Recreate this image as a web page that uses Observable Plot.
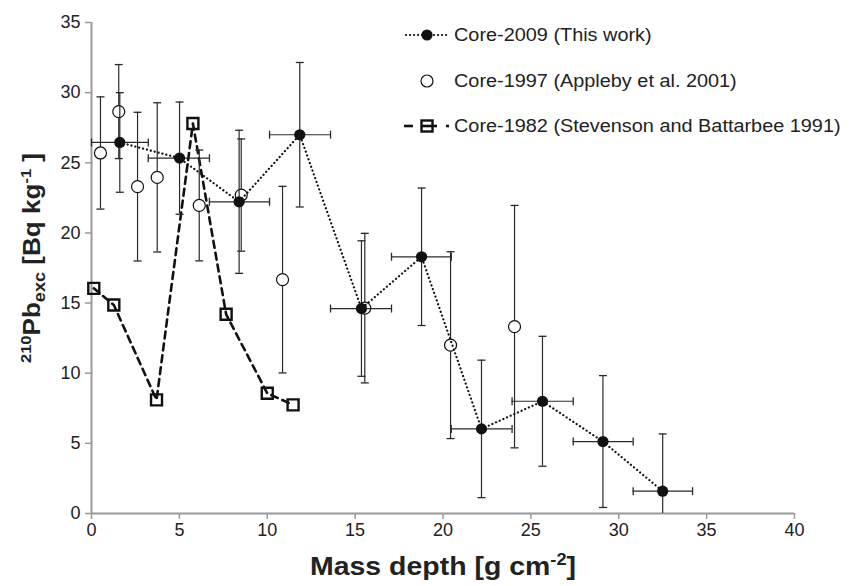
<!DOCTYPE html>
<html>
<head>
<meta charset="utf-8">
<script src="https://cdn.jsdelivr.net/npm/d3@7"></script>
<script src="https://cdn.jsdelivr.net/npm/@observablehq/plot@0.6"></script>
<style>
  html, body { margin: 0; padding: 0; background: #fff; }
  #chart { width: 854px; height: 586px; }
</style>
</head>
<body>
<div id="chart"></div>
<script>
// ---- Data ----
// Core-2009 (This work)
const c2009X    = [1.61, 5.01, 8.40, 11.85, 15.36, 18.78, 22.19, 25.66, 29.10, 32.50];
const c2009Y    = [26.45, 25.33, 22.22, 27.00, 14.61, 18.30, 6.03, 8.00, 5.13, 1.59];
const c2009Err  = [3.55, 4.00, 5.10, 5.15, 4.83, 4.90, 4.90, 4.63, 4.70, 4.08];
const c2009XLo  = [0.00, 3.23, 6.71, 10.13, 13.60, 17.07, 20.47, 23.93, 27.41, 30.82];
const c2009XHi  = [3.23, 6.71, 10.13, 13.60, 17.07, 20.47, 23.93, 27.41, 30.82, 34.20];
// Core-1997 (Appleby et al. 2001)
const c1997X    = [0.51, 1.55, 2.62, 3.74, 6.13, 8.52, 10.87, 15.55, 20.43, 24.07];
const c1997Y    = [25.70, 28.65, 23.30, 23.96, 21.96, 22.70, 16.67, 14.64, 12.00, 13.32];
const c1997Err  = [4.00, 3.35, 5.30, 5.32, 3.95, 4.00, 6.65, 5.33, 6.66, 8.64];
// Core-1982 (Stevenson and Battarbee 1991)
const c1982X    = [0.13, 1.27, 3.70, 5.77, 7.66, 10.00, 11.47];
const c1982Y    = [16.05, 14.86, 8.10, 27.80, 14.20, 8.57, 7.74];
// Axis ticks
const xTicks = [0, 5, 10, 15, 20, 25, 30, 35, 40];
const yTicks = [0, 5, 10, 15, 20, 25, 30, 35];
// Legend labels
const legendLabels = ["Core-2009 (This work)", "Core-1997 (Appleby et al. 2001)", "Core-1982 (Stevenson and Battarbee 1991)"];

// ---- Tables built from the arrays ----
const d2009 = c2009X.map((x, i) => ({
  x, y: c2009Y[i],
  ylo: Math.max(0, c2009Y[i] - c2009Err[i]), yhi: c2009Y[i] + c2009Err[i],
  xlo: c2009XLo[i], xhi: c2009XHi[i],
  clipped: c2009Y[i] - c2009Err[i] < 0
}));
const d1997 = c1997X.map((x, i) => ({
  x, y: c1997Y[i], ylo: c1997Y[i] - c1997Err[i], yhi: c1997Y[i] + c1997Err[i]
}));
const d1982 = c1982X.map((x, i) => ({x, y: c1982Y[i]}));

// custom cap symbols
const hCap = {draw(ctx, size) { const r = Math.sqrt(size / Math.PI); ctx.moveTo(-r, 0); ctx.lineTo(r, 0); }};
const vCap = {draw(ctx, size) { const r = Math.sqrt(size / Math.PI); ctx.moveTo(0, -r); ctx.lineTo(0, r); }};

const errColor = "#2a2a2a";
const axisGray = "#9a9a9a";
const FONT = "'Liberation Sans', Arial, Helvetica, sans-serif";

const plot = Plot.plot({
  width: 854,
  height: 586,
  marginLeft: 91,
  marginRight: 60,
  marginTop: 22,
  marginBottom: 73,
  style: {fontFamily: FONT, fontSize: "18px", color: "#222", background: "#fff"},
  x: {domain: [0, 40]},
  y: {domain: [0, 35]},
  marks: [
    Plot.axisX({ticks: xTicks, tickSize: 6, tickPadding: 4, stroke: axisGray, strokeWidth: 1.5, fill: "#222", label: null}),
    Plot.axisY({ticks: yTicks, tickSize: 6, tickPadding: 5, stroke: axisGray, strokeWidth: 1.5, fill: "#222", label: null}),
    Plot.ruleX([0], {stroke: axisGray, strokeWidth: 2}),
    Plot.ruleY([0], {stroke: axisGray, strokeWidth: 2}),

    // Core-1982
    Plot.line(d1982, {x: "x", y: "y", stroke: "#111", strokeWidth: 2.6, strokeDasharray: "7 5"}),
    Plot.dot(d1982, {x: "x", y: "y", symbol: "square", r: 6.2, fill: "none", stroke: "#111", strokeWidth: 2.4}),

    // Core-1997 error bars
    Plot.ruleX(d1997, {x: "x", y1: "ylo", y2: "yhi", stroke: errColor, strokeWidth: 1.2}),
    Plot.dot(d1997, {x: "x", y: "ylo", symbol: hCap, r: 4, fill: "none", stroke: errColor, strokeWidth: 1.3}),
    Plot.dot(d1997, {x: "x", y: "yhi", symbol: hCap, r: 4, fill: "none", stroke: errColor, strokeWidth: 1.3}),
    Plot.dot(d1997, {x: "x", y: "y", symbol: "circle", r: 6, fill: "white", stroke: "#111", strokeWidth: 1.2}),

    // Core-2009 error bars
    Plot.ruleX(d2009, {x: "x", y1: "ylo", y2: "yhi", stroke: errColor, strokeWidth: 1.2}),
    Plot.dot(d2009.filter(d => !d.clipped), {x: "x", y: "ylo", symbol: hCap, r: 4, fill: "none", stroke: errColor, strokeWidth: 1.3}),
    Plot.dot(d2009, {x: "x", y: "yhi", symbol: hCap, r: 4, fill: "none", stroke: errColor, strokeWidth: 1.3}),
    Plot.ruleY(d2009, {y: "y", x1: "xlo", x2: "xhi", stroke: errColor, strokeWidth: 1.2}),
    Plot.dot(d2009, {x: "xlo", y: "y", symbol: vCap, r: 4, fill: "none", stroke: errColor, strokeWidth: 1.3}),
    Plot.dot(d2009, {x: "xhi", y: "y", symbol: vCap, r: 4, fill: "none", stroke: errColor, strokeWidth: 1.3}),
    Plot.line(d2009, {x: "x", y: "y", stroke: "#111", strokeWidth: 2.2, strokeDasharray: "0.1 3.9", strokeLinecap: "round"}),
    Plot.dot(d2009, {x: "x", y: "y", symbol: "circle", r: 5.6, fill: "#111", stroke: "none"})
  ]
});

document.getElementById("chart").appendChild(plot);

// ---- Axis titles & legend (added to the SVG) ----
const svg = d3.select(plot);

// X title
const xt = svg.append("text")
  .attr("x", 443).attr("y", 575)
  .attr("text-anchor", "middle")
  .attr("textLength", 266).attr("lengthAdjust", "spacingAndGlyphs")
  .style("font-family", FONT).style("font-weight", "bold").style("font-size", "25px").attr("fill", "#222");
xt.append("tspan").text("Mass depth [g cm");
xt.append("tspan").attr("dy", -10).style("font-size", "16px").text("-2");
xt.append("tspan").attr("dy", 10).text("]");

// Y title
const yt = svg.append("text")
  .attr("transform", "translate(40,258) rotate(-90)")
  .attr("text-anchor", "middle")
  .attr("textLength", 210).attr("lengthAdjust", "spacingAndGlyphs")
  .style("font-family", FONT).style("font-weight", "bold").style("font-size", "24.5px").attr("fill", "#222");
yt.append("tspan").attr("dy", -9).style("font-size", "15.5px").text("210");
yt.append("tspan").attr("dy", 9).text("Pb");
yt.append("tspan").attr("dy", 5).style("font-size", "17px").text("exc");
yt.append("tspan").attr("dy", -5).text(" [Bq kg");
yt.append("tspan").attr("dy", -9).style("font-size", "15.5px").text("-1");
yt.append("tspan").attr("dy", 9).text(" ]");

// Legend
const lg = svg.append("g");
const rowY = [35, 81, 126];
// row 1 sample
lg.append("line").attr("x1", 406).attr("x2", 450).attr("y1", rowY[0]).attr("y2", rowY[0])
  .attr("stroke", "#111").attr("stroke-width", 2.2).attr("stroke-dasharray", "0.1 3.9").attr("stroke-linecap", "round");
lg.append("circle").attr("cx", 427).attr("cy", rowY[0]).attr("r", 5.6).attr("fill", "#111");
// row 2 sample
lg.append("circle").attr("cx", 427).attr("cy", rowY[1]).attr("r", 6).attr("fill", "white").attr("stroke", "#111").attr("stroke-width", 1.2);
// row 3 sample
lg.append("line").attr("x1", 404).attr("x2", 413).attr("y1", rowY[2]).attr("y2", rowY[2]).attr("stroke", "#111").attr("stroke-width", 2.6);
lg.append("line").attr("x1", 421).attr("x2", 437).attr("y1", rowY[2]).attr("y2", rowY[2]).attr("stroke", "#111").attr("stroke-width", 2.6);
lg.append("line").attr("x1", 446).attr("x2", 449).attr("y1", rowY[2]).attr("y2", rowY[2]).attr("stroke", "#111").attr("stroke-width", 2.6);
lg.append("rect").attr("x", 421.5).attr("y", rowY[2] - 5.5).attr("width", 11).attr("height", 11)
  .attr("fill", "none").attr("stroke", "#111").attr("stroke-width", 2.4);
const lgText = lg.append("g").attr("transform", "translate(454,0) scale(1.075,1) translate(-454,0)");
legendLabels.forEach((label, i) => {
  lgText.append("text").attr("x", 454).attr("y", rowY[i] + 6.5)
    .attr("text-anchor", "start")
    .style("font-family", FONT).style("font-size", "18.5px").attr("fill", "#222").text(label);
});
</script>
</body>
</html>
